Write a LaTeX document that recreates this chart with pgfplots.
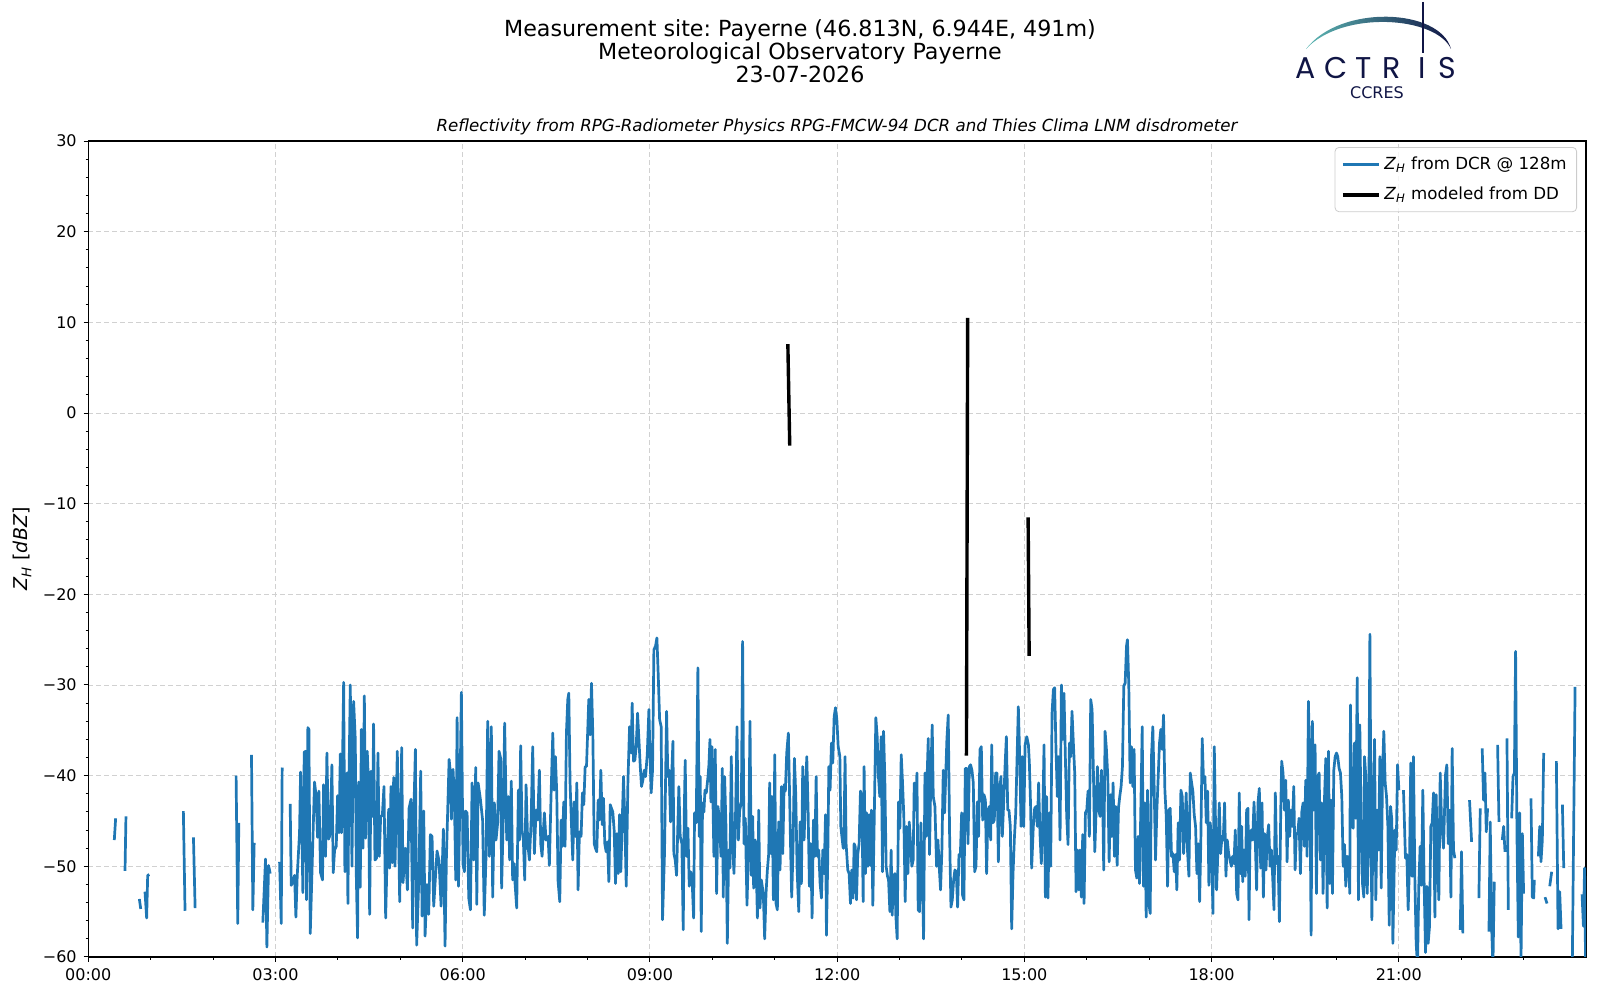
\documentclass[border=0pt]{standalone}
\usepackage{fontspec}
\setmainfont{DejaVu Sans}
\newfontfamily\logofont{Poppins}
\usepackage{pgfplots}
\pgfplotsset{compat=1.18}
\definecolor{mplblue}{HTML}{1F77B4}
\definecolor{navy}{HTML}{101545}
\definecolor{tealx}{HTML}{5DB8B4}
\begin{document}
\frenchspacing
\begin{tikzpicture}[x=0.5pt,y=0.5pt]
\useasboundingbox (0,0) rectangle (1600,1000);
% titles
\node[anchor=base,font=\fontsize{11.1}{13}\selectfont] at (800,963.3) {Measurement site: Payerne (46.813N, 6.944E, 491m)};
\node[anchor=base,font=\fontsize{11.1}{13}\selectfont] at (800,940.2) {Meteorological Observatory Payerne};
\node[anchor=base,font=\fontsize{11.1}{13}\selectfont] at (800,917.2) {23-07-2026};
\node[anchor=base,font=\fontsize{8.33}{10}\selectfont\itshape] at (837,868.5) {Reflectivity from RPG-Radiometer Physics RPG-FMCW-94 DCR and Thies Clima LNM disdrometer};
% logo
\shade[left color=tealx,right color=navy] (1306,951) .. controls (1340,996) and (1440,992) .. (1451,951) .. controls (1436,984) and (1342,990) .. (1306,951) -- cycle;
\draw[navy,line width=1pt] (1423,998) -- (1423,947);
\foreach \l/\xx in {A/1306,C/1336,T/1364,R/1392,I/1422,S/1447}{
  \node[anchor=base,inner sep=0pt,text=navy,font=\fontsize{15}{16}\logofont] at (\xx,921.4) {\l};
}
\node[anchor=base,inner sep=0pt,text=navy,font=\fontsize{8}{9}\selectfont] at (1377,901) {CCRES};
\begin{axis}[
  at={(44.15pt,21.5pt)}, anchor=south west,
  width=748.85pt, height=408pt, scale only axis,
  xmin=0, xmax=1440, ymin=-60, ymax=30,
  unbounded coords=jump,
  xtick={0,180,...,1260},
  xticklabels={00:00,03:00,06:00,09:00,12:00,15:00,18:00,21:00},
  minor xtick={60,120,240,300,420,480,600,660,780,840,960,1020,1140,1200,1320,1380},
  ytick={-60,-50,...,30},
  yticklabels={−60,−50,−40,−30,−20,−10,0,10,20,30},
  minor ytick={-58,-56,...,28},
  tick align=outside,
  tick pos=left,
  major tick length=2.3pt, minor tick length=1.4pt,
  every tick/.style={black,line width=0.5pt},
  axis line style={line width=0.55pt},
  ticklabel style={font=\fontsize{8}{10}\selectfont},
  /pgf/number format/assume math mode=true,
  grid=major,
  major grid style={color=black!18,line width=0.45pt,dash pattern=on 2.5pt off 1.5pt},
  ylabel={\textit{Z}\textsubscript{\textit{H}} [\textit{dBZ}]},
  ylabel style={font=\fontsize{9.5}{11}\selectfont,at={(axis description cs:-0.044,0.5)},anchor=center},
  legend cell align=left,
  legend style={at={(axis description cs:1,1)},anchor=north east,xshift=-4.5pt,yshift=-3pt,
    draw=black!20,rounded corners=2pt,fill=white,fill opacity=0.8,text opacity=1,
    font=\fontsize{8.33}{10}\selectfont,inner xsep=3pt,inner ysep=2.5pt,row sep=3.5pt},
  legend image code/.code={\draw[#1] (0pt,0pt) -- (18pt,0pt);},
]
\addplot[mplblue,line width=1.35pt,line join=round] coordinates {
(25.0,-47.1)(26.3,-44.7)(27,nan)
(35.3,-50.5)(36.2,-44.5)(37,nan)
(49.1,-53.6)(50.4,-54.7)(51,nan)
(54.5,-52.8)(56.1,-55.7)(57.1,-51.0)(58.7,-50.9)(59,nan)
(91.4,-43.9)(93.0,-54.9)(94,nan)
(101.1,-46.8)(102.7,-54.6)(103,nan)
(142.1,-40.0)(143.7,-56.3)(144.7,-45.2)(145,nan)
(156.9,-37.7)(158.2,-54.8)(159.5,-47.4)(160,nan)
(167.8,-56.2)(170.4,-49.2)(171.7,-58.9)(173.3,-49.9)(174.9,-50.8)(176,nan)
(183.9,-49.5)(185.5,-56.3)(186.4,-39.1)(187,nan)
(194.1,-43.1)(195.1,-52.1)(197.3,-51.5)(198.3,-51.0)(199.6,-55.6)(200.9,-51.0)(203.1,-46.3)(204.1,-39.6)(205.4,-46.3)(206.3,-52.9)
(207.6,-37.4)(209.2,-37.3)(209.8,-53.7)(211.1,-34.7)(212.1,-34.9)(213.4,-57.4)(217.5,-40.7)(219.1,-42.3)(220.4,-46.8)(221.7,-41.7)
(223.3,-50.7)(225.2,-51.5)(226.2,-41.0)(228.1,-48.9)(229.4,-37.5)(231.0,-47.0)(232.0,-46.7)(233.3,-43.4)(234.2,-38.8)(235.5,-50.7)
(236.8,-48.2)(238.4,-47.8)(239.7,-42.2)(241.0,-46.3)(242.3,-37.6)(243.5,-46.3)(245.5,-29.7)(246.7,-50.6)(248.7,-39.7)(249.6,-54.1)
(250.6,-40.7)(251.9,-30.0)(253.5,-50.0)(255.1,-31.8)(256.7,-36.0)(257.7,-51.1)(258.9,-57.9)(259.9,-40.7)(261.5,-52.3)(262.5,-34.9)
(264.1,-48.0)(265.4,-31.2)(266.6,-46.9)(268.2,-37.3)(269.5,-41.2)(270.5,-55.3)(271.8,-39.5)(273.4,-44.5)(274.3,-34.3)(275.6,-49.3)
(277.2,-49.1)(278.5,-37.5)(279.8,-48.9)(281.1,-44.5)(282.7,-44.4)(284.3,-41.2)(285.9,-55.7)(287.2,-49.3)(288.8,-43.7)(289.7,-50.2)
(291.0,-41.2)(292.3,-49.6)(293.6,-40.2)(294.9,-50.0)(297.1,-37.3)(299.4,-53.9)(301.3,-36.9)(302.6,-51.8)(304.8,-48.0)(306.8,-52.6)
(308.4,-43.6)(310.3,-42.6)(311.9,-56.8)(312.9,-44.5)(314.5,-37.1)(315.7,-58.7)(317.7,-51.8)(319.6,-39.5)(320.9,-55.5)(322.5,-43.9)
(323.8,-57.7)(325.7,-52.0)(327.3,-55.3)(328.9,-46.5)(330.5,-46.7)(332.1,-54.4)(335.3,-48.3)(337.2,-49.4)(339.2,-54.4)(341.4,-45.9)
(343.0,-58.8)(344.3,-49.1)(346.9,-38.2)(348.2,-39.7)(349.1,-44.8)(350.7,-39.3)(352.0,-42.6)(353.3,-51.5)(354.6,-33.6)(355.9,-52.2)
(357.1,-44.1)(358.7,-30.8)(360.3,-49.8)(361.6,-50.6)(362.6,-43.9)(364.2,-44.1)(365.8,-53.5)(367.4,-54.8)(369.0,-40.8)(370.6,-49.3)
(372.5,-39.1)(373.5,-54.2)(374.8,-40.8)(377.0,-42.6)
(379.1,-44.9)(380.7,-55.4)(382.4,-48.9)(384.0,-34.0)(385.6,-48.9)(387.5,-34.6)(388.8,-53.4)(390.4,-43.0)(392.0,-47.1)(393.6,-45.2)
(394.9,-37.3)(396.5,-38.1)(397.4,-52.4)(399.0,-44.5)(400.3,-34.2)(402.3,-47.1)(403.9,-42.3)(405.1,-49.3)(406.7,-40.6)(408.0,-51.5)
(409.3,-49.7)(410.3,-51.9)(411.9,-54.6)(413.5,-41.6)(414.5,-47.1)(415.7,-36.7)(417.0,-46.0)(418.3,-47.1)(419.6,-51.5)(420.9,-41.0)
(422.5,-47.5)(424.1,-49.3)(425.7,-45.2)(427.3,-36.8)(428.9,-48.6)(430.5,-43.8)(432.1,-44.9)(433.7,-39.4)(435.0,-47.5)(436.3,-48.9)
(437.6,-46.0)(438.5,-44.1)(440.1,-47.1)(442.1,-46.7)(443.3,-49.9)(444.9,-42.3)(446.6,-35.3)(447.8,-41.6)(449.1,-37.9)(450.4,-41.9)
(451.7,-51.7)(453.3,-53.9)(454.6,-44.9)(455.9,-47.8)(457.1,-42.9)(458.4,-47.8)(459.7,-35.3)(461.0,-31.6)(462.0,-30.9)(463.2,-40.8)
(464.5,-45.2)(465.8,-49.3)(467.1,-42.9)(468.4,-46.7)(469.7,-40.8)(470.9,-52.6)(472.2,-46.2)(473.8,-46.7)(475.1,-41.9)(476.4,-43.2)
(477.7,-39.0)(479.0,-39.0)(480.3,-34.6)(481.2,-31.6)(482.5,-35.5)(483.8,-29.8)(485.1,-35.5)(486.4,-47.5)(487.6,-48.0)(488.9,-48.4)
(490.2,-42.7)(491.5,-44.9)(492.8,-39.4)(494.1,-45.4)(495.3,-42.5)(496.6,-47.5)(497.9,-48.4)(499.2,-47.3)(500.5,-51.7)(501.8,-43.2)
(503.0,-43.6)(504.3,-44.0)(505.6,-46.0)(506.9,-51.9)(508.2,-46.4)(509.5,-50.8)(510.8,-44.3)(512.0,-50.6)(513.3,-45.2)(514.6,-40.1)
(515.9,-45.2)(517.2,-52.2)(518.8,-40.8)(520.4,-34.6)(522.0,-37.5)(522.9,-32.0)(524.2,-38.4)(525.5,-38.3)(526.8,-36.8)(528.1,-33.1)
(529.4,-36.0)(530.7,-39.0)(531.9,-41.2)(533.2,-40.5)(534.5,-39.4)(535.8,-40.1)(537.4,-37.7)(539.0,-32.7)(540.0,-37.5)(541.2,-41.9)
(542.5,-39.4)(543.8,-26.1)(545.4,-25.7)(546.7,-24.8)(548.0,-29.0)(549.3,-33.8)
(550.8,-34.6)(552.1,-55.9)(554.0,-48.6)(556.0,-32.9)(557.2,-40.1)(558.5,-39.4)(559.8,-45.1)(561.1,-39.4)(562.1,-36.2)(563.0,-48.6)
(564.3,-49.3)(565.6,-51.0)(566.9,-45.2)(567.8,-41.2)(569.1,-46.7)(570.7,-47.5)(572.0,-57.0)(573.0,-44.1)(573.9,-38.3)(575.2,-48.9)
(576.5,-45.8)(577.8,-52.2)(579.1,-50.6)(580.4,-51.1)(582.0,-55.7)(582.9,-44.1)(584.5,-45.2)(586.1,-28.1)(587.4,-46.7)(588.4,-40.1)
(589.3,-57.2)(590.6,-43.0)(591.9,-44.0)(592.9,-41.6)(594.2,-41.9)(595.8,-40.1)(596.7,-38.8)(597.7,-36.0)(598.6,-42.9)(599.6,-36.8)
(600.6,-42.9)(601.5,-48.9)(602.8,-37.1)(604.1,-53.0)(605.4,-43.4)(606.7,-44.7)(608.3,-48.9)(609.6,-39.2)(610.5,-53.4)(611.8,-40.1)
(613.1,-45.6)(614.4,-58.5)(615.7,-48.2)(616.9,-50.2)(618.2,-37.9)(619.5,-47.5)(620.8,-50.8)(622.4,-43.8)(623.7,-34.6)(625.0,-47.1)
(626.3,-43.8)(627.9,-43.0)(629.1,-25.2)(630.4,-47.5)(631.7,-44.7)(633.3,-54.3)(634.9,-47.5)(636.2,-34.0)(637.5,-51.0)(638.8,-44.5)
(639.7,-52.4)(641.3,-47.1)(642.3,-50.4)(643.3,-55.7)(644.6,-43.8)(645.8,-54.6)(647.1,-51.5)(649.0,-53.0)(650.3,-58.0)(651.6,-53.0)
(652.9,-50.4)(654.2,-48.6)(655.1,-40.8)(656.4,-48.6)(657.4,-42.3)(658.7,-53.7)(660.0,-37.7)(661.2,-54.1)(662.5,-54.8)(663.8,-45.1)
(665.1,-50.4)(666.4,-41.2)(667.7,-48.6)(669.0,-41.0)(670.2,-41.7)(671.5,-37.5)(673.1,-35.3)(674.1,-41.2)(675.4,-48.9)(676.3,-53.4)
(677.6,-48.0)(678.9,-38.1)(680.2,-42.1)(681.5,-50.4)(683.1,-55.0)(684.4,-45.1)(685.6,-51.9)(686.9,-39.0)(688.2,-47.1)(689.5,-42.1)
(690.8,-37.9)(692.1,-44.0)(693.3,-52.2)(694.6,-47.5)(695.9,-55.7)(697.2,-44.9)(698.5,-48.9)(699.8,-40.1)(701.0,-48.9)(702.3,-48.2)
(703.6,-51.9)(704.9,-53.5)(706.2,-48.2)(707.5,-50.8)(708.8,-44.3)(709.7,-57.6)(711.0,-48.9)(712.0,-39.0)(713.2,-41.6)(714.5,-36.4)
(715.8,-38.6)(717.1,-33.5)(718.4,-32.5)(719.7,-33.8)(721.0,-36.8)(722.6,-37.9)(723.5,-45.6)(725.8,-48.0)
(726.4,-48.0)(727.6,-37.9)(728.6,-47.5)(730.2,-50.4)(731.5,-50.8)(732.8,-54.1)(734.1,-50.4)(735.3,-53.5)(736.3,-47.5)(737.3,-47.8)
(738.6,-53.7)(739.8,-48.7)(741.1,-47.5)(742.4,-41.7)(743.7,-42.3)(745.0,-53.9)(745.9,-39.0)(747.2,-50.8)(748.2,-44.1)(749.5,-50.0)
(750.7,-44.3)(752.0,-49.9)(753.0,-43.8)(754.3,-54.3)(755.6,-45.2)(757.2,-33.6)(758.5,-35.7)(759.7,-40.1)(761.0,-42.3)(762.3,-35.7)
(763.6,-50.6)(764.6,-35.1)(765.8,-40.1)(767.1,-50.0)(768.4,-51.1)(769.4,-51.5)(770.7,-55.0)(771.9,-48.2)(772.9,-55.4)(774.2,-51.1)
(775.5,-50.8)(776.4,-55.4)(777.7,-58.0)(779.0,-42.9)(780.3,-45.8)(781.6,-37.7)(782.8,-40.6)(784.1,-44.5)(785.4,-53.9)(786.7,-45.6)
(788.0,-50.8)(789.3,-45.1)(790.6,-47.5)(791.8,-50.0)(793.1,-49.3)(794.1,-40.8)(795.4,-43.8)(796.7,-39.7)(797.9,-54.8)(799.2,-55.0)
(800.5,-45.2)(801.8,-50.4)(803.1,-58.0)(804.4,-39.7)(805.6,-46.7)(806.6,-39.7)(807.6,-35.9)(808.8,-48.7)(810.1,-39.7)(811.4,-34.4)
(812.4,-42.3)(814.0,-43.4)(815.6,-50.0)(816.9,-47.1)(818.2,-50.2)(819.4,-52.6)(820.7,-48.2)(822.0,-39.4)(823.3,-44.1)(824.6,-39.2)
(825.5,-36.0)(826.8,-33.3)(828.1,-46.4)(829.4,-54.5)(830.7,-53.7)(832.0,-51.5)(833.2,-50.4)(834.5,-50.6)(835.8,-54.5)(837.1,-48.7)
(838.4,-48.9)(839.7,-44.1)(840.6,-53.2)(841.9,-53.7)(843.2,-39.2)(844.5,-39.2)(845.8,-47.5)(847.1,-39.0)(848.3,-38.8)(849.6,-39.4)
(850.9,-40.8)(852.2,-50.6)(853.5,-50.0)(854.8,-42.9)(856.0,-46.7)(857.3,-37.1)(858.6,-36.8)(859.9,-44.9)(861.2,-42.1)(862.5,-42.7)
(863.7,-50.8)(865.0,-43.8)(866.3,-43.4)(867.6,-47.1)(868.6,-36.6)(869.8,-45.2)(871.1,-44.9)(872.4,-39.7)(873.7,-39.7)(875.0,-49.5)
(876.3,-41.6)(877.5,-40.1)(878.8,-46.7)(880.1,-43.0)(881.4,-39.0)(882.7,-35.7)(884.0,-43.8)(885.2,-43.8)(886.5,-45.6)(887.8,-56.9)
(889.1,-50.8)(890.4,-46.9)(891.7,-44.1)(893.0,-37.9)(894.2,-32.4)(895.5,-37.9)(896.8,-45.6)(898.1,-37.9)(899.4,-45.6)(900.7,-36.6)
(902.3,-35.7)(903.9,-36.6)
(904.8,-38.6)(906.0,-43.4)(907.0,-50.2)(908.6,-45.6)(909.9,-43.6)(911.2,-43.4)(912.5,-45.6)(913.7,-40.8)(915.0,-46.4)(916.3,-49.7)
(917.6,-45.2)(918.9,-36.6)(920.2,-53.4)(921.4,-42.3)(922.7,-53.5)(924.0,-44.1)(925.3,-50.0)(926.6,-33.1)(927.9,-30.5)(929.1,-30.3)
(930.4,-37.1)(931.7,-42.3)(933.0,-37.9)(934.3,-47.1)(935.6,-30.0)(936.9,-36.0)(938.1,-30.9)(939.4,-37.9)(940.7,-44.5)(942.0,-47.6)
(943.3,-36.4)(944.6,-37.9)(945.8,-32.9)(947.1,-36.4)(948.4,-39.7)(949.7,-52.8)(951.0,-48.2)(952.3,-52.6)(953.5,-48.2)(954.8,-53.4)
(956.1,-46.5)(957.4,-54.1)(958.7,-44.1)(960.0,-43.8)(961.2,-41.7)(962.5,-46.7)(963.8,-31.6)(965.1,-32.7)(966.4,-39.7)(967.7,-48.4)
(969.0,-43.8)(970.2,-39.0)(971.5,-43.8)(972.8,-44.5)(974.1,-39.4)(975.4,-43.4)(976.3,-50.4)(977.6,-35.1)(978.9,-37.1)(980.2,-40.1)
(981.5,-49.5)(982.8,-42.1)(984.0,-46.7)(985.3,-40.8)(986.6,-48.9)(987.9,-43.4)(989.2,-49.9)(990.5,-43.6)(991.7,-42.3)(993.0,-41.2)
(994.3,-39.0)(995.6,-30.1)(996.9,-29.8)(998.2,-25.7)(999.1,-25.0)(1000.4,-30.0)(1001.7,-40.8)(1003.0,-36.8)(1004.3,-41.2)(1005.5,-37.1)
(1006.8,-50.4)(1008.1,-51.3)(1009.4,-46.7)(1010.7,-51.9)(1012.0,-43.4)(1013.3,-34.6)(1014.5,-52.2)(1015.8,-43.0)(1017.1,-55.6)(1018.4,-41.6)
(1019.7,-54.1)(1021.0,-55.2)(1022.2,-37.9)(1023.5,-34.6)(1024.8,-41.2)(1026.1,-49.3)(1027.4,-43.8)(1028.7,-40.1)(1029.9,-36.4)(1031.2,-34.9)
(1032.5,-37.1)(1033.8,-33.3)(1035.1,-41.6)(1036.4,-44.5)(1037.7,-52.2)(1038.9,-43.8)(1040.2,-43.6)(1041.5,-48.9)(1042.8,-48.6)(1044.1,-50.6)
(1045.4,-48.7)(1046.6,-52.6)(1047.9,-45.2)(1049.2,-49.3)(1050.5,-41.6)(1051.8,-42.3)(1053.1,-48.6)(1054.3,-46.0)(1055.6,-41.9)(1056.9,-48.4)
(1058.2,-51.1)(1059.5,-39.7)(1060.8,-40.8)(1062.0,-41.7)(1063.3,-44.3)(1064.6,-45.6)(1065.9,-50.8)(1067.2,-47.5)(1068.5,-53.9)(1069.7,-46.9)
(1071.0,-35.9)(1072.3,-40.8)(1073.6,-40.1)(1074.9,-45.2)(1076.2,-41.7)(1077.4,-52.1)(1078.7,-45.2)(1080.0,-47.5)(1081.3,-55.2)(1082.6,-36.8)
(1084.8,-52.6)(1086.1,-48.2)(1087.4,-43.0)(1088.7,-48.6)(1090.0,-46.7)(1091.2,-47.1)(1092.5,-43.0)(1093.8,-51.1)(1095.1,-47.1)(1096.4,-48.6)
(1097.7,-49.3)(1099.0,-50.0)(1100.2,-48.9)(1101.5,-49.7)(1102.8,-46.0)(1104.1,-53.0)(1105.4,-53.7)(1106.6,-41.9)(1107.9,-50.8)(1108.9,-45.6)
(1109.9,-51.7)(1111.1,-48.2)(1112.4,-51.1)(1113.7,-43.8)(1115.0,-43.6)(1116.0,-55.9)(1116.9,-47.5)(1118.2,-46.0)(1119.5,-47.1)(1120.8,-42.9)
(1122.1,-47.5)(1123.3,-52.6)(1124.6,-43.0)(1125.9,-41.4)(1127.2,-50.2)(1128.5,-43.0)(1129.8,-53.4)(1131.0,-46.4)(1132.3,-50.4)(1133.6,-46.7)
(1134.9,-45.4)(1136.2,-50.0)(1137.5,-48.2)(1138.7,-51.1)(1140.0,-54.8)(1141.3,-41.9)(1142.6,-49.7)(1143.9,-48.9)(1145.2,-56.1)(1146.5,-43.8)
(1147.4,-38.4)(1148.7,-39.7)(1150.0,-43.8)(1151.3,-40.5)(1152.6,-49.5)(1153.8,-42.7)(1155.1,-46.7)(1156.4,-43.8)(1157.7,-45.6)(1159.0,-41.2)
(1160.3,-50.4)(1161.5,-46.4)(1162.8,-46.4)(1164.1,-44.7)(1165.4,-50.8)(1166.7,-44.0)(1168.0,-43.0)(1169.2,-47.8)(1170.5,-40.5)(1171.8,-48.9)
(1173.1,-31.8)(1174.4,-39.4)(1175.7,-57.6)(1176.9,-34.0)(1178.2,-43.8)(1179.5,-36.6)(1180.8,-53.0)(1182.1,-40.1)(1183.4,-39.7)(1184.7,-49.3)
(1185.9,-43.0)(1187.2,-53.0)(1188.5,-42.7)(1189.8,-38.1)(1191.1,-54.6)(1192.4,-37.3)(1193.6,-51.9)(1194.9,-42.7)(1196.2,-53.0)(1197.5,-39.4)
(1198.8,-37.9)(1200.1,-37.5)(1201.3,-37.9)(1202.6,-39.2)(1203.9,-39.7)(1205.2,-42.3)(1206.5,-50.0)(1207.8,-47.6)(1209.0,-52.2)(1210.3,-48.9)
(1211.6,-49.1)(1212.9,-53.0)(1213.5,-32.2)(1214.8,-45.2)(1216.1,-45.8)(1217.4,-36.4)(1218.7,-44.7)(1220.0,-29.2)(1221.2,-53.7)(1222.5,-34.4)
(1223.8,-44.9)(1225.1,-51.9)(1226.4,-53.4)(1227.0,-37.9)(1228.3,-40.1)(1229.6,-53.0)(1230.9,-47.5)(1232.2,-24.4)(1233.4,-47.5)(1234.1,-55.9)
(1235.4,-43.4)(1236.7,-36.0)(1237.9,-53.7)(1239.2,-43.8)(1240.5,-48.2)(1241.8,-37.9)(1243.1,-52.4)(1244.4,-39.4)(1245.6,-35.1)(1246.9,-40.8)
(1248.2,-42.3)(1249.5,-45.6)(1250.8,-56.5)(1252.1,-43.4)(1253.3,-44.9)(1254.3,-58.5)(1255.3,-52.2)(1256.2,-46.0)(1257.5,-48.2)(1258.8,-38.8)
(1260.1,-41.6)(1261,nan)
(1264.5,-41.6)(1266.4,-49.1)(1267.7,-48.7)(1269.0,-54.8)(1270.3,-49.7)(1271.5,-38.6)(1272.8,-51.1)(1274.1,-37.9)(1275.4,-51.1)(1276.7,-58.5)
(1278.0,-61.0)(1279.2,-52.2)(1280.5,-47.8)(1281.8,-52.1)(1283.1,-41.6)(1284.4,-52.1)(1285.7,-59.5)(1287.0,-52.2)(1288.2,-58.5)(1289.5,-56.7)
(1290.8,-45.6)(1292.1,-45.2)(1293.4,-41.9)(1294.7,-55.6)(1295.9,-42.1)(1297.2,-49.1)(1298.5,-53.7)(1299.8,-39.7)(1301.1,-45.0)(1303.0,-48.0)
(1304.9,-39.9)(1306.2,-38.8)(1307.5,-47.5)(1308.8,-43.8)(1310.1,-53.4)(1311.3,-37.0)(1312.6,-48.2)(1313.9,-49.1)(1315,nan)
(1319.1,-57.0)(1320.3,-48.4)(1321.6,-57.4)(1322.5,nan)
(1328.0,-42.7)(1330.0,-47.3)(1331,nan)
(1337.0,-53.5)(1338.3,-43.6)(1339,nan)
(1340.2,-37.0)(1341.5,-42.7)(1342.8,-39.7)(1344.1,-46.2)(1345.4,-43.6)(1346,nan)
(1346.7,-57.2)(1347.9,-45.1)(1349.2,-56.5)(1350.5,-61.0)(1351.8,-51.7)(1352.5,nan)
(1355.0,-36.6)(1356.3,-45.1)(1357,nan)
(1359.5,-47.1)(1360.8,-45.6)(1362.1,-48.4)(1363,nan)
(1364.0,-35.9)(1365.3,-54.8)(1366,nan)
(1368.5,-44.7)(1369.8,-40.1)(1371.1,-39.7)(1372.3,-26.3)(1373.6,-46.4)(1374.9,-57.8)(1376.2,-44.1)(1377.5,-60.5)(1378.8,-46.4)(1380.0,-53.0)(1381,nan)
(1387.1,-42.5)(1388.4,-53.4)(1389.7,-53.5)(1390.3,-51.5)(1391,nan)
(1394.2,-48.9)(1395.5,-45.6)(1396.7,-49.5)(1398.0,-47.1)(1399.3,-37.5)(1400,nan)
(1400.6,-53.4)(1402.5,-54.1)(1403,nan)
(1405.1,-52.2)(1407.0,-50.6)(1408,nan)
(1411.5,-38.4)(1413.1,-56.9)(1414.7,-52.8)(1416.0,-56.9)(1416.6,nan)
(1417.3,-43.2)(1418.6,-50.2)(1419.5,nan)
(1426.8,-61.0)(1429.5,-30.2)(1430.5,nan)
(1436.2,-53.1)(1437.5,-56.6)(1438.6,-50.2)(1439.6,-61.0)
};
\addlegendentry{\textit{Z}\textsubscript{\textit{H}} from DCR @ 128m}
\addplot[black,line width=1.7pt] coordinates {
(672.6,7.6)(674.4,-3.6)(675,nan)
(845.5,10.5)(844.3,-37.8)(846,nan)
(903.6,-11.5)(904.6,-26.8)
};
\addlegendentry{\textit{Z}\textsubscript{\textit{H}} modeled from DD}
\end{axis}
\end{tikzpicture}
\end{document}
